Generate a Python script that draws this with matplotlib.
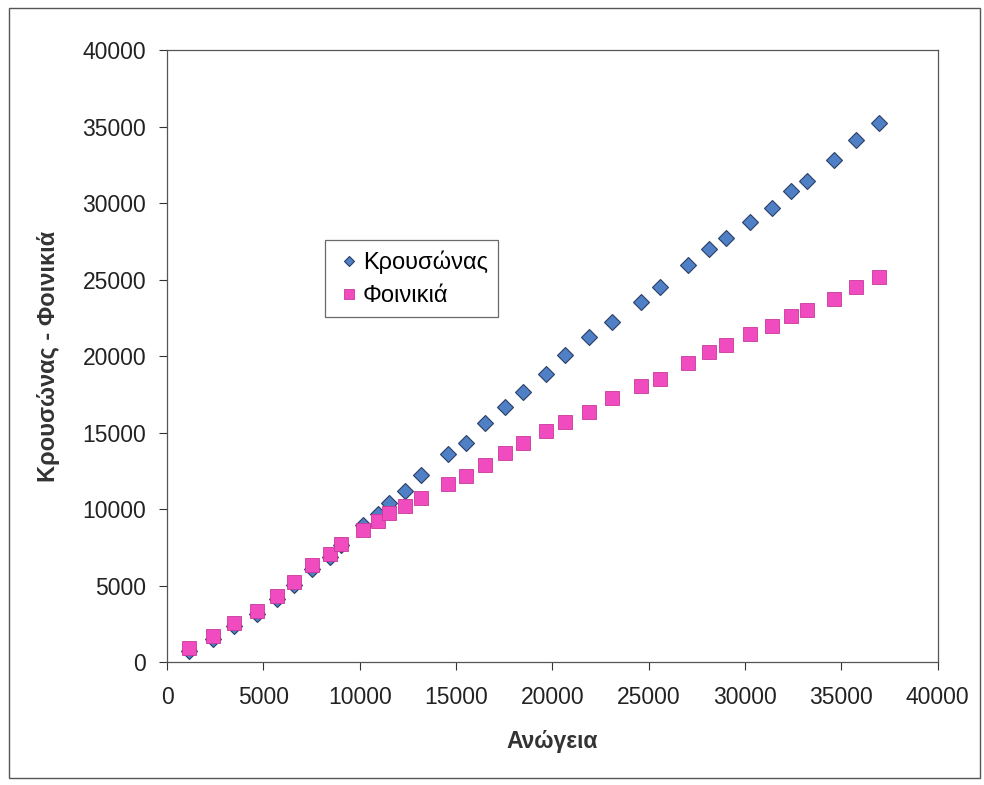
import matplotlib
matplotlib.use("Agg")
import matplotlib.pyplot as plt
from matplotlib.patches import Rectangle

plt.rcParams['font.family'] = ['Liberation Sans', 'DejaVu Sans']

anogeia = [1158, 2372, 3494, 4657, 5726, 6608, 7543, 8462, 9033, 10159,
           10954, 11540, 12371, 13202, 14588, 15506, 16524, 17531, 18466, 19660,
           20677, 21892, 23086, 24617, 25593, 27031, 28153, 29019, 30281, 31408,
           32394, 33209, 34626, 35753, 36947]
krousonas = [740, 1523, 2373, 3157, 4137, 5052, 6098, 6850, 7667, 8974,
             9725, 10431, 11196, 12222, 13614, 14353, 15641, 16667, 17667, 18843,
             20105, 21242, 22242, 23549, 24562, 25987, 26993, 27752, 28758, 29673,
             30824, 31458, 32850, 34118, 35248]
foinikia = [915, 1719, 2588, 3353, 4353, 5268, 6359, 7059, 7732, 8647,
            9235, 9739, 10235, 10739, 11634, 12157, 12895, 13680, 14333, 15098,
            15725, 16359, 17242, 18039, 18529, 19542, 20281, 20706, 21477, 21980,
            22614, 23007, 23765, 24549, 25163]
ticks = [0, 5000, 10000, 15000, 20000, 25000, 30000, 35000, 40000]

fig = plt.figure(figsize=(9.84, 7.85), dpi=100)
ax = fig.add_axes([167/984, 1-662.3/785, (937.5-167)/984, (662.3-50.3)/785])

ax.plot(anogeia, krousonas, linestyle='none', marker='D', markersize=8,
        markerfacecolor='#4F7FC4', markeredgecolor='#2B3F66', markeredgewidth=0.8,
        label='Κρουσώνας', zorder=3)
ax.plot(anogeia, foinikia, linestyle='none', marker='s', markersize=9.5,
        markerfacecolor='#F04CC0', markeredgecolor='#C8389C', markeredgewidth=0.6,
        label='Φοινικιά', zorder=4)

ax.set_xlim(0, 40000)
ax.set_ylim(0, 40000)
ax.set_xticks(ticks)
ax.set_yticks(ticks)
ax.set_xticklabels([str(t) for t in ticks])
ax.set_yticklabels([str(t) for t in ticks])
ax.tick_params(axis='both', direction='out', length=6, width=0.8, color='#333333',
               labelsize=16.5, labelcolor='#222222', pad=11)
ax.tick_params(axis='y', pad=9)
for s in ax.spines.values():
    s.set_color('#555555')
    s.set_linewidth(0.9)

ax.set_xlabel('Ανώγεια', fontsize=16.5, fontweight='bold', color='#333333', labelpad=15)
ax.set_ylabel('Κρουσώνας - Φοινικιά', fontsize=17, fontweight='bold', color='#333333', labelpad=16)

leg = ax.legend(loc='upper left', bbox_to_anchor=(0.205, 0.69), borderaxespad=0,
                fontsize=17, frameon=True, fancybox=False, shadow=False,
                borderpad=0.45, handletextpad=0.05, handlelength=1.1,
                markerscale=0.7, labelspacing=0.45)
leg.get_frame().set_edgecolor('#444444')
leg.get_frame().set_linewidth(0.9)

fig.patches.append(Rectangle((9/984, 1-778/785), (980-9)/984, (778-8)/785,
                             transform=fig.transFigure, fill=False,
                             edgecolor='#555555', linewidth=1.0))

fig.savefig('out.png', dpi=100)
